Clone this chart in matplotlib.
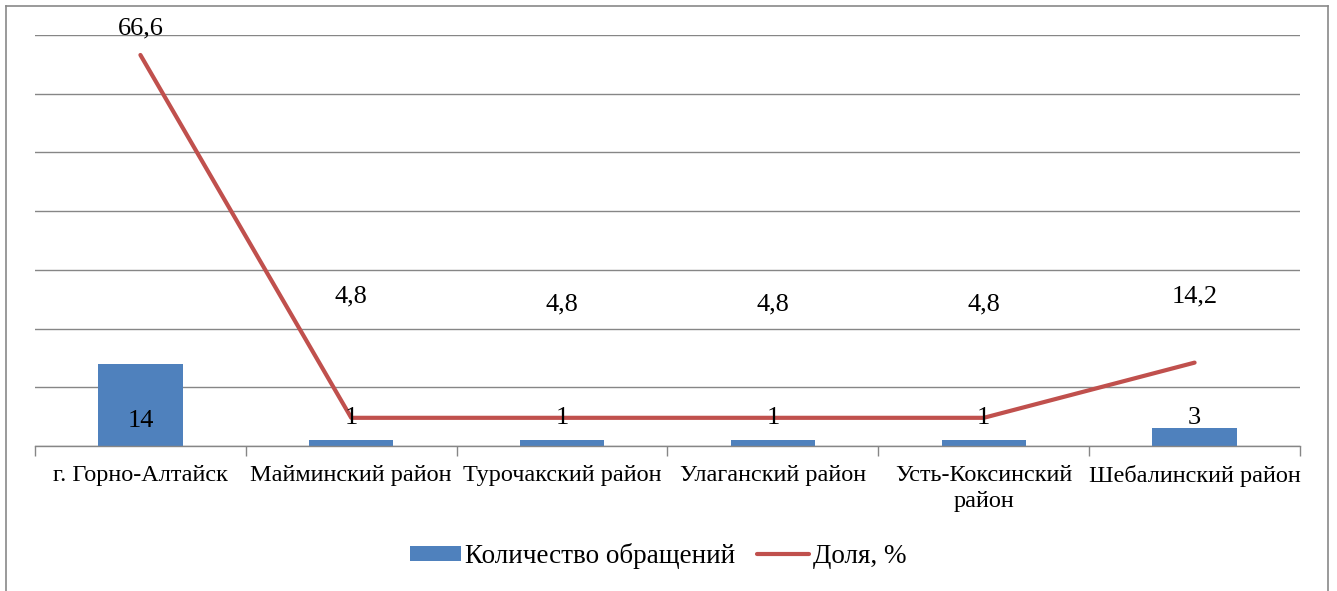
import matplotlib
matplotlib.use("Agg")
import matplotlib.pyplot as plt
from matplotlib.lines import Line2D
import numpy as np

categories = ["г. Горно-Алтайск", "Майминский район", "Турочакский район",
              "Улаганский район", "Усть-Коксинский\nрайон", "Шебалинский район"]
counts = [14, 1, 1, 1, 1, 3]
shares = [66.6, 4.8, 4.8, 4.8, 4.8, 14.2]
count_labels = ["14", "1", "1", "1", "1", "3"]
share_labels = ["66,6", "4,8", "4,8", "4,8", "4,8", "14,2"]

W, H = 1337, 591
fig = plt.figure(figsize=(W / 100, H / 100), dpi=100)
plt.rcParams['font.family'] = ['Liberation Serif', 'DejaVu Serif']

ax = fig.add_axes([35 / W, 1 - 446 / H, (1300 - 35) / W, (446 - 35) / H])
x = np.arange(len(categories))
blue = "#4F81BD"
red = "#C0504D"
grid = "#868686"

bars = ax.bar(x, counts, width=0.4, color=blue, zorder=2, label="Количество обращений")
line, = ax.plot(x, shares, color=red, lw=3.0, solid_capstyle="round", zorder=3, label="Доля, %")

ax.set_xlim(-0.5, len(categories) - 0.5)
ax.set_ylim(0, 70)
ax.set_yticks(np.arange(0, 71, 10))
ax.yaxis.grid(True, color=grid, lw=1.0, zorder=0)
ax.set_axisbelow(True)
ax.tick_params(axis="y", left=False, labelleft=False)
for s in ["left", "right", "top"]:
    ax.spines[s].set_visible(False)
ax.spines["bottom"].set_color(grid)
ax.spines["bottom"].set_linewidth(1.0)

ax.set_xticks(x)
ax.set_xticklabels(categories, fontsize=17.5, linespacing=1.3)
ax.tick_params(axis="x", which="major", length=0, pad=14)
ax.set_xticks(np.arange(-0.5, len(categories), 1.0), minor=True)
ax.tick_params(axis="x", which="minor", length=7, color=grid, width=1.0)

# share labels
share_offsets = [27, 121, 113, 113, 113, 66]
for xi, v, lab, off in zip(x, shares, share_labels, share_offsets):
    ax.annotate(lab, (xi, v), xytext=(0, off), textcoords="offset pixels",
                ha="center", va="center", fontsize=19, zorder=5)

# count labels
count_offsets = [25, 28, 28, 28, 28, 28]
for xi, v, lab, off in zip(x, counts, count_labels, count_offsets):
    ax.annotate(lab, (xi, 0), xytext=(0, off), textcoords="offset pixels",
                ha="center", va="center", fontsize=19, zorder=5)

leg = fig.legend([bars, line], ["Количество обращений", "Доля, %"],
                 loc="center", bbox_to_anchor=(658 / W, 1 - 556 / H), ncol=2,
                 frameon=False, fontsize=19.5, handlelength=1.9, handleheight=0.5,
                 handletextpad=0.15, columnspacing=0.8)

# outer border
bc = "#898989"
fig.add_artist(Line2D([6 / W, 6 / W], [0, 1 - 6 / H], color=bc, lw=1.2, transform=fig.transFigure))
fig.add_artist(Line2D([1328 / W, 1328 / W], [0, 1 - 6 / H], color=bc, lw=1.2, transform=fig.transFigure))
fig.add_artist(Line2D([6 / W, 1328 / W], [1 - 6 / H, 1 - 6 / H], color=bc, lw=1.2, transform=fig.transFigure))

fig.savefig("out.png", dpi=100)
